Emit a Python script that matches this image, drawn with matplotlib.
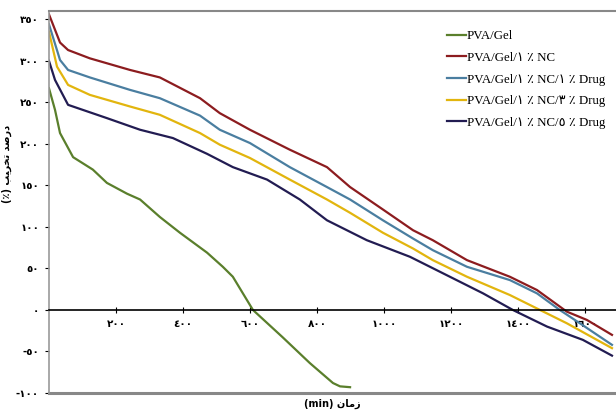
import matplotlib
matplotlib.use("Agg")
import matplotlib.pyplot as plt
from matplotlib.font_manager import FontProperties

# data (time in min, degradation in %)
gel_x = [0, 18, 33, 72, 131, 173, 233, 272, 331, 391, 472, 519, 549, 579, 609, 698, 779, 848, 869, 899]
gel_y = [267, 241, 213, 184, 169, 153, 140, 133, 112, 93, 69, 52, 40, 20, 0, -33, -64, -88, -92, -93]

nc_x = [0, 33, 57, 122, 242, 331, 451, 510, 600, 719, 830, 899, 997, 1087, 1146, 1248, 1376, 1457, 1546, 1606, 1681]
nc_y = [356, 322, 313, 303, 289, 280, 255, 237, 217, 193, 172, 148, 121, 96, 84, 60, 40, 24, -2, -12, -30]

d1_x = [0, 33, 57, 122, 242, 331, 451, 510, 600, 719, 830, 899, 997, 1087, 1146, 1248, 1376, 1457, 1525, 1585, 1681]
d1_y = [344, 301, 289, 280, 265, 255, 234, 217, 201, 172, 148, 133, 108, 86, 72, 52, 36, 20, 0, -16, -42]

d3_x = [0, 24, 57, 122, 242, 331, 451, 510, 600, 719, 830, 899, 997, 1087, 1146, 1248, 1376, 1466, 1546, 1681]
d3_y = [335, 293, 271, 259, 245, 235, 213, 199, 183, 157, 133, 117, 93, 74, 60, 40, 18, 0, -16, -46]

d5_x = [0, 18, 57, 173, 272, 370, 472, 549, 651, 749, 830, 949, 1078, 1197, 1296, 1385, 1487, 1594, 1681]
d5_y = [300, 277, 247, 231, 217, 207, 188, 172, 157, 133, 108, 84, 64, 40, 20, 0, -20, -36, -55]

labels = ["PVA/Gel", "PVA/Gel/\u0661 \u066a NC", "PVA/Gel/\u0661 \u066a NC/\u0661 \u066a Drug",
          "PVA/Gel/\u0661 \u066a NC/\u0663 \u066a Drug", "PVA/Gel/\u0661 \u066a NC/\u0665 \u066a Drug"]
colors = ["#5a7f2c", "#8c1c1f", "#4a7ea0", "#e2b50e", "#221c52"]

xticks = [200, 400, 600, 800, 1000, 1200, 1400, 1600]
xtick_labels = ["\u0662\u0660\u0660", "\u0664\u0660\u0660", "\u0666\u0660\u0660", "\u0668\u0660\u0660",
                "\u0661\u0660\u0660\u0660", "\u0661\u0662\u0660\u0660", "\u0661\u0664\u0660\u0660", "\u0661\u0666\u0660\u0660"]
yticks = [-100, -50, 0, 50, 100, 150, 200, 250, 300, 350]
ytick_labels = ["-\u0661\u0660\u0660", "-\u0665\u0660", "\u0660", "\u0665\u0660", "\u0661\u0660\u0660",
                "\u0661\u0665\u0660", "\u0662\u0660\u0660", "\u0662\u0665\u0660", "\u0663\u0660\u0660", "\u0663\u0665\u0660"]

# Arabic labels written in visual order with presentation forms (no shaping in matplotlib)
xlabel = "(min) \ufee5\ufe8e\ufee3\ufeaf"
ylabel = "(\u066a) \ufe90\ufef4\ufeae\ufea8\ufe97 \ufeaa\ufebb\ufead\ufea9"

fig = plt.figure(figsize=(6.16, 4.15), dpi=100)
ax = fig.add_axes([0.0795, 0.053, 0.9205, 0.9205])

series = [(gel_x, gel_y), (nc_x, nc_y), (d1_x, d1_y), (d3_x, d3_y), (d5_x, d5_y)]
for (xs, ys), lab, c in zip(series, labels, colors):
    ax.plot(xs, ys, color=c, lw=1.6, label=lab)

ax.set_xlim(0, 1693)
ax.set_ylim(-100, 360)

ax.spines["right"].set_visible(False)
ax.spines["top"].set_color("#888888")
ax.spines["top"].set_linewidth(1.5)
ax.spines["left"].set_color("#999999")
ax.spines["left"].set_linewidth(1.2)
ax.spines["bottom"].set_position(("data", 0))
ax.spines["bottom"].set_color("black")
ax.spines["bottom"].set_linewidth(1.2)
ax.axhline(-100, color="#888888", lw=2.2, clip_on=False)

tickfont = dict(family="DejaVu Sans", weight="bold", size=7.5)
ax.set_xticks(xticks)
ax.set_xticklabels(xtick_labels, **tickfont)
ax.set_yticks(yticks)
ax.set_yticklabels(ytick_labels, **tickfont)
ax.tick_params(axis="x", direction="inout", length=5, width=0.8, pad=4)
ax.tick_params(axis="y", direction="out", length=3, width=0.8, pad=4)

ax.set_xlabel(xlabel, family="DejaVu Sans", weight="bold", size=7, va="center")
ax.xaxis.set_label_coords(0.5, -0.028)
ax.set_ylabel(ylabel, family="DejaVu Sans", weight="bold", size=7)
ax.yaxis.set_label_coords(-0.065, 0.6)

leg = ax.legend(loc="upper left", bbox_to_anchor=(447 / 616, 1 - 30 / 415), bbox_transform=fig.transFigure,
                frameon=False, handlelength=1.45, handletextpad=0.1, labelspacing=0.75, borderaxespad=0,
                borderpad=0, prop=FontProperties(family=["Liberation Serif", "DejaVu Sans"], size=9.3))

fig.savefig("out.png", dpi=100)
